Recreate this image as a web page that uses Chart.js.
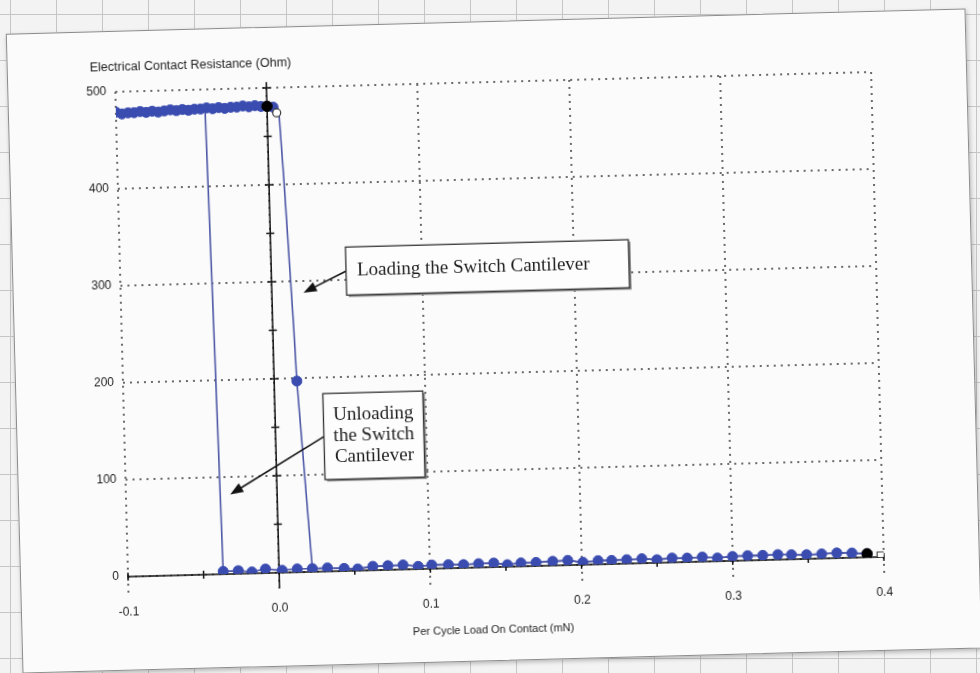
<!DOCTYPE html>
<html>
<head>
<meta charset="utf-8">
<style>
  html, body { margin: 0; padding: 0; }
  body {
    width: 980px; height: 673px; overflow: hidden; position: relative;
    background-color: #f3f3f3;
    background-image: linear-gradient(#c6c6c6 1px, transparent 1px), linear-gradient(90deg, #c6c6c6 1px, transparent 1px);
    background-size: 46px 46px;
    background-position: 0 14px, 10px 0;
  }
  #card {
    position: absolute; left: 14px; top: 21px; width: 960px; height: 640px;
    box-sizing: border-box; background: #fbfbfb; border: 1px solid #8c8c8c;
    box-shadow: 1px 2px 4px rgba(0,0,0,0.25);
    transform: rotate(-1.5deg);
  }
  canvas { display: block; }
</style>
</head>
<body>
<div id="card">
    <canvas id="resistance" width="958" height="638"></canvas>
</div>

<script src="https://cdn.jsdelivr.net/npm/chart.js"></script>

<script>
    // contact open: the flat run at the top (load in mN, resistance in Ohm)
    var topX = [-0.100, -0.096, -0.092, -0.088, -0.084, -0.080, -0.076, -0.072, -0.068, -0.064,
                -0.060, -0.056, -0.052, -0.048, -0.044, -0.040, -0.036, -0.032, -0.028, -0.024,
                -0.020, -0.016, -0.012, -0.008, -0.004, 0.000, 0.004];
    var topY = [479, 477, 478, 478, 479, 478, 479, 478, 479, 480,
                479, 480, 479, 480, 480, 481, 480, 481, 480, 481,
                481, 482, 481, 482, 481, 481, 480];

    // contact closed: the run along the bottom
    var bottomX = [-0.037, -0.027, -0.018, -0.009, 0.002, 0.012, 0.022, 0.032, 0.043, 0.052,
                   0.062, 0.072, 0.082, 0.092, 0.101, 0.112, 0.122, 0.132,
                   0.142, 0.151, 0.160, 0.170, 0.181, 0.191, 0.201, 0.211, 0.220, 0.230,
                   0.240, 0.250, 0.260, 0.270, 0.280, 0.290, 0.300, 0.310, 0.320, 0.330,
                   0.339, 0.349, 0.359, 0.369, 0.379, 0.389];
    var bottomY = [2.9, 3.2, 1.5, 4.2, 2.4, 3.4, 3.3, 3.6, 2.7, 1.7,
                   4.0, 4.3, 4.6, 2.8, 3.8, 3.7, 3.3, 3.9,
                   4.2, 2.1, 3.5, 3.7, 4.3, 4.9, 2.5, 3.8, 3.7, 4.0,
                   4.6, 3.2, 4.5, 4.1, 4.7, 3.3, 4.5, 4.9, 4.8, 5.2,
                   4.7, 4.3, 4.7, 5.3, 4.8, 3.7];

    // loading: drop from open to closed
    var loadDropX = [0.0078, 0.0099, 0.0139, 0.0150];
    var loadDropY = [474, 405, 250, 197];
    var midDotX = [0.0150];
    var midDotY = [197];

    // unloading: rise from closed to open
    var unloadRiseX = [-0.039, -0.041];
    var unloadRiseY = [252, 479];

    // start / end markers
    var blackX = [0.000, 0.389];
    var blackY = [481, 3.7];
    var hollowX = [0.0063];
    var hollowY = [474];
    var squareX = [0.398];
    var squareY = [1.5];

    var xTicks = [-0.1, 0.0, 0.1, 0.2, 0.3, 0.4];
    var yTicks = [0, 100, 200, 300, 400, 500];
    var xMinor = [-0.1, -0.05, 0.05, 0.1, 0.15, 0.2, 0.25, 0.3, 0.35, 0.4];
    var yMinor = [50, 100, 150, 200, 250, 300, 350, 400, 450, 500];

    var yTitle = 'Electrical Contact Resistance (Ohm)';
    var xTitle = 'Per Cycle Load On Contact (mN)';

    var notes = [
        {lines: ['Loading the Switch Cantilever'], x: 0.143, y: 309, tipX: 0.021, tipY: 288},
        {lines: ['Unloading', 'the Switch', 'Cantilever'], x: 0.065, y: 139, tipX: -0.031, tipY: 82}
    ];
    var noteBoxes = [
        {w: 283, h: 48, align: 'left'},
        {w: 100, h: 86, align: 'center'}
    ];

    var pts = (xs, ys) => xs.map((v, i) => ({x: v, y: ys[i]}));
    var topPts = pts(topX, topY);
    var bottomPts = pts(bottomX, bottomY);
    var loadingPath = topPts.concat(pts(loadDropX, loadDropY), bottomPts.filter(p => p.x >= 0.02));
    var unloadingPath = bottomPts.slice().reverse()
        .concat(pts(unloadRiseX, unloadRiseY), topPts.filter(p => p.x < -0.042).reverse());

    var dotBlue = '#3a4cb0';
    var lineBlue = '#4d57a6';
    var sans = '"Liberation Sans", Arial, sans-serif';
    var serif = '"Liberation Serif", "Times New Roman", serif';

    var extras = {
        id: 'extras',
        beforeDatasetsDraw(chart) {
            var ctx = chart.ctx, x = chart.scales.x, y = chart.scales.y;
            var x0 = x.getPixelForValue(0), y0 = y.getPixelForValue(0);
            ctx.save();
            ctx.strokeStyle = '#111';
            ctx.lineWidth = 1.5;
            ctx.beginPath();
            ctx.moveTo(x.left, y0);
            ctx.lineTo(x.right, y0);
            ctx.moveTo(x0, y0 + 15);
            ctx.lineTo(x0, y.getPixelForValue(506));
            yMinor.forEach(v => {
                var p = y.getPixelForValue(v);
                ctx.moveTo(x0 - 4, p);
                ctx.lineTo(x0 + 4, p);
            });
            xMinor.forEach(v => {
                var p = x.getPixelForValue(v);
                ctx.moveTo(p, y0 - 4);
                ctx.lineTo(p, y0 + 4);
            });
            ctx.stroke();
            ctx.restore();
        },
        afterDatasetsDraw(chart) {
            var ctx = chart.ctx, x = chart.scales.x, y = chart.scales.y;
            ctx.save();
            // axis titles
            ctx.fillStyle = '#1e1e1e';
            ctx.font = '12.5px ' + sans;
            ctx.textBaseline = 'middle';
            ctx.textAlign = 'left';
            ctx.fillText(yTitle, 82, 36);
            ctx.font = '11px ' + sans;
            ctx.textAlign = 'center';
            ctx.fillText(xTitle, 471, 608);

            // callout boxes with arrows
            notes.forEach((n, i) => {
                var b = noteBoxes[i];
                var cx = x.getPixelForValue(n.x), cy = y.getPixelForValue(n.y);
                var left = cx - b.w / 2, top = cy - b.h / 2;
                var tx = x.getPixelForValue(n.tipX), ty = y.getPixelForValue(n.tipY);

                // arrow
                var ang = Math.atan2(ty - cy, tx - left);
                ctx.strokeStyle = '#111';
                ctx.fillStyle = '#111';
                ctx.lineWidth = 1.6;
                ctx.beginPath();
                ctx.moveTo(left, cy);
                ctx.lineTo(tx - 10 * Math.cos(ang), ty - 10 * Math.sin(ang));
                ctx.stroke();
                ctx.beginPath();
                ctx.moveTo(tx, ty);
                ctx.lineTo(tx - 13 * Math.cos(ang) + 5 * Math.sin(ang), ty - 13 * Math.sin(ang) - 5 * Math.cos(ang));
                ctx.lineTo(tx - 13 * Math.cos(ang) - 5 * Math.sin(ang), ty - 13 * Math.sin(ang) + 5 * Math.cos(ang));
                ctx.closePath();
                ctx.fill();

                // box
                ctx.fillStyle = '#888';
                ctx.fillRect(left + 2, top + 2, b.w, b.h);
                ctx.fillStyle = '#fdfdfd';
                ctx.fillRect(left, top, b.w, b.h);
                ctx.strokeStyle = '#333';
                ctx.lineWidth = 1.3;
                ctx.strokeRect(left, top, b.w, b.h);

                ctx.fillStyle = '#1e1e1e';
                ctx.font = '19px ' + serif;
                ctx.textBaseline = 'middle';
                var lh = 21;
                var startY = cy - (n.lines.length - 1) * lh / 2;
                n.lines.forEach((t, k) => {
                    if (b.align === 'left') {
                        ctx.textAlign = 'left';
                        ctx.fillText(t, left + 11, startY + k * lh);
                    } else {
                        ctx.textAlign = 'center';
                        ctx.fillText(t, cx, startY + k * lh);
                    }
                });
            });
            ctx.restore();
        }
    };

    var chart = new Chart(document.getElementById('resistance'), {
        type: 'scatter',
        data: {
            datasets: [
                {
                    label: 'Loading',
                    data: loadingPath,
                    showLine: true,
                    borderColor: lineBlue,
                    borderWidth: 1.6,
                    pointRadius: 0,
                    tension: 0,
                    order: 5
                },
                {
                    label: 'Unloading',
                    data: unloadingPath,
                    showLine: true,
                    borderColor: lineBlue,
                    borderWidth: 1.6,
                    pointRadius: 0,
                    tension: 0,
                    order: 6
                },
                {
                    label: 'Measured',
                    data: topPts.concat(pts(midDotX, midDotY), bottomPts),
                    backgroundColor: dotBlue,
                    borderColor: dotBlue,
                    borderWidth: 1,
                    pointRadius: 5,
                    order: 3
                },
                {
                    label: 'Hollow',
                    data: pts(hollowX, hollowY),
                    backgroundColor: '#fff',
                    borderColor: '#333',
                    borderWidth: 1.2,
                    pointRadius: 4,
                    order: 2
                },
                {
                    label: 'End',
                    data: pts(squareX, squareY),
                    pointStyle: 'rect',
                    backgroundColor: '#fff',
                    borderColor: '#444',
                    borderWidth: 1.2,
                    pointRadius: 5,
                    order: 1
                },
                {
                    label: 'Start',
                    data: pts(blackX, blackY),
                    backgroundColor: '#000',
                    borderColor: '#000',
                    pointRadius: 5.2,
                    order: 0
                }
            ]
        },
        options: {
            responsive: false,
            animation: false,
            layout: {padding: {left: 0, top: 60, right: 95, bottom: 0}},
            plugins: {legend: {display: false}, tooltip: {enabled: false}},
            scales: {
                x: {
                    type: 'linear',
                    min: -0.1,
                    max: 0.4,
                    afterBuildTicks: s => { s.ticks = xTicks.map(v => ({value: v})); },
                    afterFit: s => { s.height = 93; },
                    grid: {color: '#6a6a6a', lineWidth: 2, tickLength: 18, tickColor: '#6a6a6a', tickWidth: 2, tickBorderDash: [2, 5]},
                    border: {display: false, dash: [2, 5]},
                    ticks: {
                        padding: 10,
                        color: '#1e1e1e',
                        font: {family: sans, size: 12},
                        maxRotation: 0,
                        callback: v => v.toFixed(1)
                    }
                },
                y: {
                    min: 0,
                    max: 500,
                    afterBuildTicks: s => { s.ticks = yTicks.map(v => ({value: v})); },
                    afterFit: s => { s.width = 107; },
                    grid: {color: '#6a6a6a', lineWidth: 2, drawTicks: false},
                    border: {display: false, dash: [2, 5]},
                    ticks: {
                        padding: 9,
                        color: '#1e1e1e',
                        font: {family: sans, size: 12}
                    }
                }
            }
        },
        plugins: [extras]
    });
</script>
</body>
</html>
